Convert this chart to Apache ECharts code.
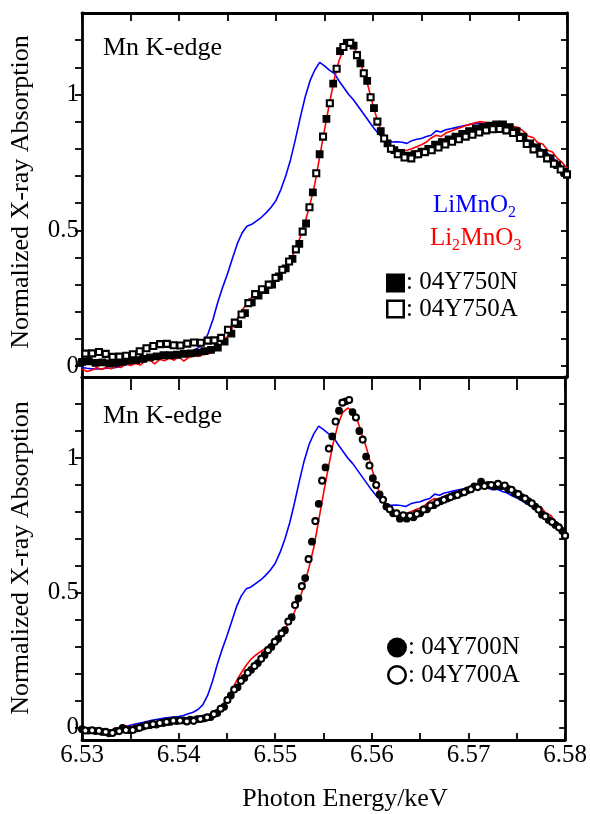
<!DOCTYPE html>
<html><head><meta charset="utf-8">
<script src="https://cdn.jsdelivr.net/npm/echarts@6/dist/echarts.min.js"></script>
<style>html,body{margin:0;padding:0;background:#fff}#c{width:590px;height:814px}</style>
</head><body><div id="c"></div>
<script>
// ---------- DATA ----------
// Energies (keV) of the "N" samples
const energyN = [6.5300,6.5307,6.5314,6.5321,6.5328,6.5335,6.5342,6.5349,6.5356,6.5363,
6.5370,6.5377,6.5384,6.5391,6.5398,6.5405,6.5412,6.5419,6.5426,6.5433,
6.5440,6.5447,6.5454,6.5461,6.5468,6.5475,6.5482,6.5489,6.5496,6.5503,
6.5510,6.5517,6.5524,6.5531,6.5538,6.5545,6.5552,6.5559,6.5566,6.5573,
6.5580,6.5587,6.5594,6.5601,6.5608,6.5615,6.5622,6.5629,6.5636,6.5643,
6.5650,6.5657,6.5664,6.5671,6.5678,6.5685,6.5692,6.5699,6.5706,6.5713,
6.5720,6.5727,6.5734,6.5741,6.5748,6.5755,6.5762,6.5769,6.5776,6.5783,
6.5790,6.5797,6.5800];

// Energies (keV) of the "A" samples
const energyA = [6.53035,6.53105,6.53175,6.53245,6.53315,6.53385,6.53455,6.53525,6.53595,6.53665,
6.53735,6.53805,6.53875,6.53945,6.54015,6.54085,6.54155,6.54225,6.54295,6.54365,
6.54435,6.54505,6.54575,6.54645,6.54715,6.54785,6.54855,6.54925,6.54995,6.55065,
6.55135,6.55205,6.55275,6.55345,6.55415,6.55485,6.55555,6.55625,6.55695,6.55765,
6.55835,6.55905,6.55975,6.56045,6.56115,6.56185,6.56255,6.56325,6.56395,6.56465,
6.56535,6.56605,6.56675,6.56745,6.56815,6.56885,6.56955,6.57025,6.57095,6.57165,
6.57235,6.57305,6.57375,6.57445,6.57515,6.57585,6.57655,6.57725,6.57795,6.57865,
6.57935,6.58000];

const s04Y750N = [0.016,0.018,0.012,0.014,0.010,0.012,0.016,0.020,0.022,0.027,
0.032,0.036,0.040,0.040,0.042,0.045,0.047,0.050,0.055,0.060,
0.068,0.090,0.120,0.155,0.195,0.235,0.260,0.280,0.300,0.330,
0.360,0.395,0.450,0.525,0.640,0.780,0.910,1.040,1.160,1.190,
1.180,1.115,1.050,0.950,0.865,0.820,0.795,0.785,0.775,0.780,
0.790,0.800,0.815,0.825,0.835,0.845,0.855,0.865,0.875,0.880,
0.885,0.890,0.890,0.880,0.865,0.845,0.820,0.805,0.785,0.765,
0.740,0.715,0.705];

const s04Y750A = [0.046,0.047,0.052,0.045,0.034,0.035,0.038,0.044,0.055,0.066,
0.074,0.081,0.082,0.077,0.076,0.083,0.087,0.086,0.094,0.095,
0.104,0.134,0.160,0.190,0.232,0.265,0.283,0.300,0.325,0.355,
0.385,0.430,0.495,0.585,0.710,0.845,0.968,1.095,1.175,1.190,
1.145,1.078,0.990,0.900,0.838,0.800,0.780,0.768,0.765,0.780,
0.788,0.795,0.805,0.816,0.826,0.835,0.845,0.852,0.860,0.868,
0.872,0.873,0.868,0.858,0.840,0.818,0.798,0.782,0.765,0.745,
0.724,0.706];

const s04Y700N = [-0.005,-0.010,-0.012,-0.015,-0.020,-0.012,0.000,-0.008,-0.002,0.005,
0.010,0.012,0.018,0.022,0.025,0.028,0.030,0.032,0.035,0.040,
0.055,0.078,0.120,0.150,0.185,0.215,0.240,0.270,0.300,0.330,
0.362,0.410,0.480,0.555,0.690,0.830,0.965,1.080,1.175,1.210,
1.170,1.100,1.005,0.925,0.865,0.820,0.795,0.775,0.775,0.780,
0.795,0.810,0.825,0.840,0.850,0.860,0.870,0.880,0.895,0.912,
0.900,0.895,0.895,0.885,0.870,0.855,0.840,0.820,0.790,0.770,
0.752,0.730,0.712];

const s04Y700A = [-0.010,-0.009,-0.011,-0.015,-0.019,-0.012,-0.008,-0.008,0.000,0.009,
0.014,0.018,0.022,0.027,0.027,0.024,0.026,0.033,0.039,0.051,
0.071,0.103,0.142,0.174,0.204,0.229,0.256,0.288,0.319,0.350,
0.394,0.455,0.525,0.625,0.766,0.916,1.035,1.135,1.205,1.215,
1.150,1.068,0.972,0.900,0.845,0.810,0.795,0.788,0.786,0.793,
0.809,0.824,0.834,0.845,0.855,0.863,0.873,0.884,0.892,0.896,
0.900,0.904,0.898,0.882,0.866,0.850,0.832,0.809,0.784,0.763,
0.743,0.712];

// Reference spectra energies (keV)
const refEnergy = [6.5300,6.5305,6.5310,6.5315,6.5320,6.5325,6.5330,6.5335,6.5340,6.5345,
6.5350,6.5355,6.5360,6.5365,6.5370,6.5375,6.5380,6.5385,6.5390,6.5395,
6.5400,6.5405,6.5410,6.5415,6.5420,6.5425,6.5430,6.5435,6.5440,6.5445,
6.5450,6.5455,6.5460,6.5465,6.5470,6.5475,6.5480,6.5485,6.5490,6.5495,
6.5500,6.5505,6.5510,6.5515,6.5520,6.5525,6.5530,6.5535,6.5540,6.5545,
6.5550,6.5555,6.5560,6.5565,6.5570,6.5575,6.5580,6.5585,6.5590,6.5595,
6.5600,6.5605,6.5610,6.5615,6.5620,6.5625,6.5630,6.5635,6.5640,6.5645,
6.5650,6.5655,6.5660,6.5665,6.5670,6.5675,6.5680,6.5685,6.5690,6.5695,
6.5700,6.5705,6.5710,6.5715,6.5720,6.5725,6.5730,6.5735,6.5740,6.5745,
6.5750,6.5755,6.5760,6.5765,6.5770,6.5775,6.5780,6.5785,6.5790,6.5795,
6.5800];

const LiMnO2 = [-0.005,-0.008,-0.010,-0.010,-0.010,-0.008,-0.008,-0.005,0.000,0.005,
0.010,0.014,0.018,0.022,0.026,0.030,0.033,0.036,0.038,0.040,
0.042,0.046,0.052,0.058,0.068,0.085,0.120,0.172,0.235,0.290,
0.340,0.395,0.450,0.490,0.515,0.522,0.535,0.548,0.565,0.585,
0.610,0.650,0.700,0.760,0.835,0.915,0.990,1.050,1.090,1.118,
1.105,1.090,1.078,1.050,1.025,1.000,0.980,0.955,0.930,0.905,
0.880,0.858,0.840,0.828,0.825,0.826,0.824,0.820,0.830,0.835,
0.838,0.845,0.850,0.866,0.862,0.870,0.874,0.878,0.882,0.886,
0.890,0.893,0.895,0.890,0.888,0.882,0.884,0.876,0.870,0.860,
0.852,0.842,0.830,0.820,0.808,0.795,0.783,0.768,0.752,0.735,
0.712];

const Li2MnO3 = [-0.010,-0.020,-0.015,-0.005,-0.012,-0.005,-0.010,0.000,-0.005,0.008,
0.002,0.010,0.004,0.018,0.022,0.008,0.025,0.020,0.030,0.022,
0.035,0.018,0.032,0.038,0.036,0.042,0.045,0.052,0.065,0.085,
0.110,0.140,0.175,0.205,0.232,0.255,0.270,0.283,0.295,0.310,
0.325,0.345,0.368,0.392,0.430,0.475,0.530,0.595,0.670,0.770,
0.870,0.965,1.055,1.125,1.170,1.185,1.175,1.140,1.085,1.030,
0.960,0.900,0.850,0.822,0.805,0.796,0.793,0.795,0.800,0.808,
0.815,0.825,0.840,0.850,0.845,0.858,0.865,0.872,0.878,0.885,
0.890,0.896,0.900,0.898,0.895,0.897,0.893,0.892,0.886,0.882,
0.878,0.865,0.846,0.842,0.822,0.818,0.795,0.788,0.765,0.750,
0.728];

// Axis ticks and labels
const xTickValues = [6.530,6.535,6.540,6.545,6.550,6.555,6.560,6.565,6.570,6.575,6.580];
const xLabelValues = [6.53,6.54,6.55,6.56,6.57,6.58];
const yTickValues = [0,0.1,0.2,0.3,0.4,0.5,0.6,0.7,0.8,0.9,1.0,1.1,1.2];
const yLabelValues = [0,0.5,1];

// ---------- CHART ----------
const FONT = '"Liberation Serif","Times New Roman",serif';
const BLACK = '#000';
const pairs = (xs, ys) => ys.map((y, i) => [xs[i], y]);

const lineAx = {show:true, onZero:false, lineStyle:{color:BLACK, width:2.8}};
function xAx(grid, pos, tick, label){
  return {gridIndex:grid, type:'value', min:6.53, max:6.58, position:pos,
    axisLine:lineAx, splitLine:{show:false},
    axisTick: tick ? Object.assign({show:true, customValues:xTickValues, lineStyle:{color:BLACK,width:1.8}}, tick) : {show:false},
    axisLabel: label ? {show:true, customValues:xLabelValues, color:BLACK, fontFamily:FONT, fontSize:25, margin:3} : {show:false}};
}
function yAx(grid, pos, min, tick, label){
  return {gridIndex:grid, type:'value', min:min, max:1.3, position:pos,
    axisLine:lineAx, splitLine:{show:false},
    axisTick: Object.assign({show:true, customValues:yTickValues, lineStyle:{color:BLACK,width:1.8}}, tick),
    axisLabel: label ? {show:true, customValues:yLabelValues, color:BLACK, fontFamily:FONT, fontSize:25, margin:3} : {show:false}};
}

const refLine = (name, xi, yi, ys, color) => ({name, type:'line', xAxisIndex:xi, yAxisIndex:yi,
  data:pairs(refEnergy, ys), symbol:'none', smooth:false, lineStyle:{color, width:1.6}, z:2});
const markers = (name, xi, yi, xs, ys, symbol, filled) => ({name, type:'scatter', xAxisIndex:xi, yAxisIndex:yi,
  data:pairs(xs, ys), symbol, symbolSize: filled?6.5:6, clip:false,
  itemStyle:{color: filled?BLACK:'#fff', borderColor:BLACK, borderWidth: filled?1.3:2.1, opacity:1}, z:3});

const txt = (x, y, text, size, color, extra) => Object.assign({type:'text', x, y,
  style:{text, font: size+'px '+FONT, fill: color||BLACK, align:'left', verticalAlign:'middle'}}, extra||{});
const ctxt = (x, y, text, size, rot) => ({type:'text', x, y, rotation: rot||0,
  style:{text, font: size+'px '+FONT, fill:BLACK, align:'center', verticalAlign:'middle'}});

const option = {
  animation:false,
  backgroundColor:'#fff',
  grid:[{left:82, top:13, width:485, height:364}, {left:82, top:377, width:485, height:363}],
  xAxis:[
    xAx(0,'bottom',null,false),
    xAx(0,'top',{inside:true,length:8},false),
    xAx(1,'bottom',{inside:true,length:7},true),
    xAx(1,'top',{inside:true,length:13},false)
  ],
  yAxis:[
    yAx(0,'left',-0.04,{inside:false,length:7},true),
    yAx(0,'right',-0.04,{inside:true,length:6},false),
    yAx(1,'left',-0.045,{inside:false,length:7},true),
    yAx(1,'right',-0.045,{inside:true,length:6},false)
  ],
  series:[
    refLine('LiMnO2',0,0,LiMnO2,'#0000ff'),
    refLine('Li2MnO3',0,0,Li2MnO3,'#ff0000'),
    markers('04Y750N',0,0,energyN,s04Y750N,'rect',true),
    markers('04Y750A',0,0,energyA,s04Y750A,'rect',false),
    refLine('LiMnO2',2,2,LiMnO2,'#0000ff'),
    refLine('Li2MnO3',2,2,Li2MnO3,'#ff0000'),
    markers('04Y700N',2,2,energyN,s04Y700N,'circle',true),
    markers('04Y700A',2,2,energyA,s04Y700A,'circle',false)
  ],
  graphic:[
    txt(103, 48.5, 'Mn K-edge', 26),
    txt(103, 416.5, 'Mn K-edge', 26),
    // reference legend (top panel)
    txt(433, 205, 'LiMnO', 25, '#0000ff'),
    txt(508, 213, '2', 16, '#0000ff'),
    txt(430, 238, 'Li', 25, '#ff0000'),
    txt(452, 246, '2', 16, '#ff0000'),
    txt(460.5, 238, 'MnO', 25, '#ff0000'),
    txt(513.5, 246, '3', 16, '#ff0000'),
    // sample legends
    {type:'rect', shape:{x:386, y:273.5, width:19, height:19}, style:{fill:BLACK}},
    {type:'rect', shape:{x:387.25, y:300.75, width:16.5, height:16.5}, style:{fill:'#fff', stroke:BLACK, lineWidth:2.5}},
    txt(406, 282.5, ': 04Y750N', 25),
    txt(406, 309, ': 04Y750A', 25),
    {type:'circle', shape:{cx:397, cy:647.5, r:10}, style:{fill:BLACK}},
    {type:'circle', shape:{cx:397, cy:675, r:8.8}, style:{fill:'#fff', stroke:BLACK, lineWidth:2.5}},
    txt(408, 647.5, ': 04Y700N', 25),
    txt(408, 675, ': 04Y700A', 25),
    // axis titles
    ctxt(21, 192, 'Normalized X-ray Absorption', 26, Math.PI/2),
    ctxt(21, 558, 'Normalized X-ray Absorption', 26, Math.PI/2),
    ctxt(345, 799, 'Photon Energy/keV', 26)
  ]
};
const chart = echarts.init(document.getElementById('c'), null, {renderer:'canvas'});
chart.setOption(option);
</script>
</body></html>
